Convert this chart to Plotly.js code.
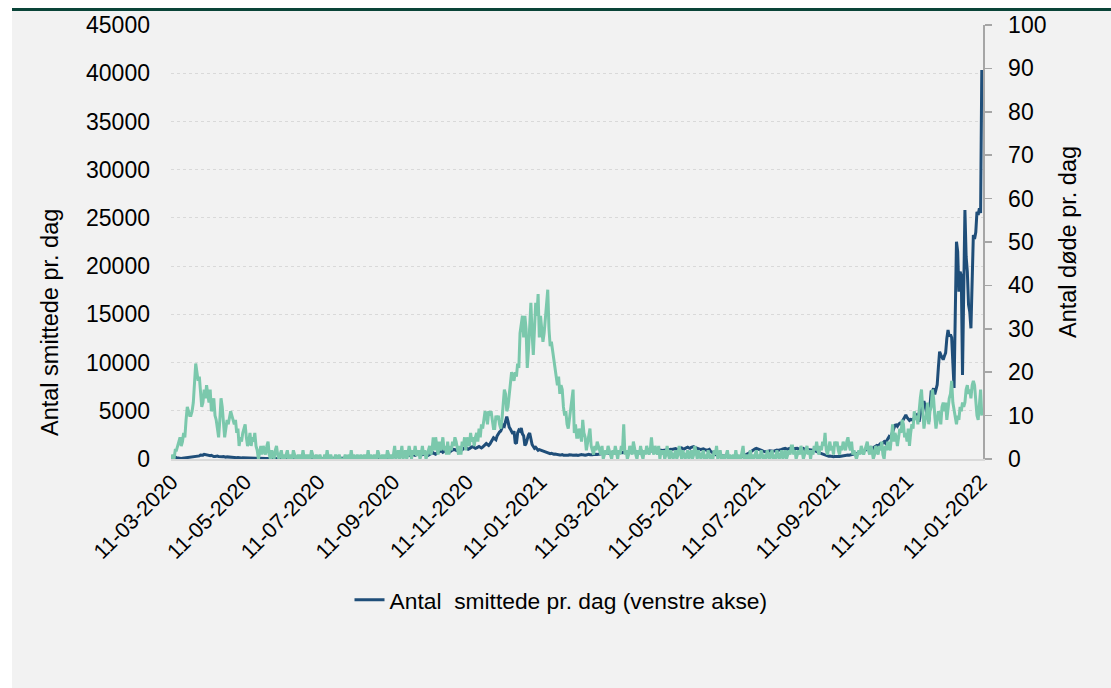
<!DOCTYPE html>
<html>
<head>
<meta charset="utf-8">
<script src="https://cdn.plot.ly/plotly-3.0.1.min.js"></script>
<style>
  html, body { margin: 0; padding: 0; background: #ffffff; }
  #chart { width: 1111px; height: 688px; }
</style>
</head>
<body>
<div id="chart"></div>
<script>
// Daily series, starting 11-03-2020 (one value per day)
const START_DATE = [2020, 2, 11];

// Daily new cases (left axis)
const cases = [
  // Mar 2020
  30,80,150,200,120,90,70,80,60,80,100,90,110,130,120,150,180,190,200,250,270,
  // Apr 2020
  290,350,320,420,380,400,480,450,390,330,310,340,380,300,260,270,290,310,250,230,220,240,260,210,190,220,200,180,210,190,
  // May 2020
  170,160,150,140,160,130,120,110,130,120,100,110,90,80,100,90,80,70,90,80,60,70,80,60,50,70,60,50,60,40,50,
  // Jun 2020
  40,50,60,40,30,50,40,30,40,50,30,20,40,30,50,40,30,40,50,30,20,40,50,30,40,60,50,40,30,40,
  // Jul 2020
  30,20,30,10,20,30,20,10,20,30,20,30,40,20,30,40,30,20,40,50,40,60,70,50,60,80,70,90,80,100,110,
  // Aug 2020
  120,100,130,150,110,90,140,170,130,120,150,180,140,110,100,130,160,120,90,110,140,130,100,80,110,120,100,90,110,140,160,
  // Sep 2020
  150,130,170,200,230,190,170,220,260,300,280,250,330,380,400,450,420,350,330,400,460,480,430,380,420,500,470,420,380,450,
  // Oct 2020
  480,510,440,400,470,520,550,500,420,390,480,560,600,650,560,500,620,700,760,800,860,700,780,880,940,900,820,760,850,950,1000,
  // Nov 2020
  960,900,1050,1100,1000,880,950,1080,1150,1200,1100,1020,1080,1180,1250,1280,1200,1100,1150,1250,1300,1220,1150,1230,1350,1450,1600,1500,1400,1550,
  // Dec 2020
  1800,1900,2200,2100,2000,2400,2700,2800,2900,3200,3500,3400,3900,4400,3900,3300,3100,2800,2600,2900,1700,1600,2700,3000,2900,3200,2600,2400,1400,1600,2200,
  // Jan 2021
  2500,2700,1900,1500,1300,1100,1200,1050,900,980,930,850,800,760,700,720,650,600,550,580,520,490,510,470,450,430,410,420,450,400,380,
  // Feb 2021
  420,410,390,440,460,420,380,400,430,410,380,420,450,470,430,400,390,420,460,480,450,420,440,470,500,480,460,490,
  // Mar 2021
  520,550,600,580,560,620,640,600,580,620,650,700,680,640,620,660,700,720,680,650,700,740,760,720,690,730,760,780,740,720,760,
  // Apr 2021
  780,760,740,800,820,780,760,800,840,860,820,800,850,880,900,870,850,880,920,950,900,880,920,960,930,910,950,990,1010,980,
  // May 2021
  1000,1040,1080,1020,990,1050,1100,1150,1080,1020,1100,1180,1220,1150,1100,1200,1250,1280,1200,1150,1100,1050,1000,980,1020,1060,1000,950,900,950,1000,
  // Jun 2021
  800,700,600,550,480,420,400,420,380,350,320,300,280,300,260,240,220,200,210,180,160,150,130,150,170,200,240,300,360,420,
  // Jul 2021
  450,500,600,700,800,900,1000,1050,1100,1050,950,900,850,800,780,750,780,760,800,850,820,780,800,850,900,930,880,900,950,1000,1050,
  // Aug 2021
  1080,1100,1050,1000,1080,1100,1150,1050,1000,1080,1120,1100,1050,1000,1050,1100,1100,1000,950,900,980,950,900,850,900,880,800,750,700,650,600,
  // Sep 2021
  550,500,450,380,320,300,280,300,260,250,240,260,280,300,260,250,280,300,320,350,380,400,420,400,450,480,500,520,550,520,
  // Oct 2021
  600,650,700,750,800,780,850,900,950,1000,1100,1200,1150,1100,1250,1300,1400,1350,1500,1600,1550,1700,1800,1650,1900,2000,2300,2100,2400,2800,3200,
  // Nov 2021
  3500,3530,3400,3600,3700,3650,3900,4200,4400,4560,4300,4100,4000,4100,4050,4040,4300,4400,4560,4200,3870,4600,5290,5600,6000,5500,4900,4600,3870,5500,
  // Dec 2021
  6980,7000,7340,6700,7200,7700,9500,11130,10800,10500,10300,10680,11000,12500,13380,12700,12900,12600,10500,7360,15000,22530,21500,17350,19420,19000,8710,16500,25820,21000,19420,
  // Jan 2022
  16000,15270,13550,18500,23230,22800,23500,25640,25300,26000,25500,40340
];

// Daily deaths (right axis)
const deaths = [
  // Mar 2020
  0,1,0,2,2,3,4,5,3,4,6,5,9,12,11,10,10,11,13,18,22,
  // Apr 2020
  20,18,19,14,12,13,16,14,17,15,13,16,11,12,14,10,9,7,5,9,14,12,8,5,7,9,8,10,11,10,
  // May 2020
  9,8,9,6,7,3,5,4,6,7,8,5,3,4,6,3,5,4,6,3,2,0,2,3,1,3,2,1,3,4,1,
  // Jun 2020
  0,2,1,0,2,3,1,0,1,2,0,1,0,1,2,0,0,1,0,2,1,0,0,1,0,1,0,2,0,1,
  // Jul 2020
  0,1,0,0,2,1,0,0,1,0,0,1,0,0,0,1,0,2,0,0,1,0,0,0,1,0,0,1,0,0,0,
  // Aug 2020
  0,1,0,0,1,0,2,0,1,0,0,1,0,0,1,0,0,1,0,0,2,0,1,0,0,1,0,0,2,1,0,
  // Sep 2020
  0,1,0,1,0,2,1,0,1,0,1,3,0,1,2,0,1,3,0,1,2,0,1,3,1,0,2,1,3,1,
  // Oct 2020
  1,2,0,1,3,1,2,0,1,2,3,1,2,5,2,5,3,1,4,2,3,5,2,3,1,4,1,3,2,4,3,
  // Nov 2020
  5,4,2,1,3,1,4,3,5,2,5,4,3,6,4,5,3,5,6,4,7,5,8,7,9,11,10,8,11,10,
  // Dec 2020
  11,9,7,7,10,9,10,8,7,9,12,16,15,11,12,15,17,20,19,18,20,19,22,21,29,31,33,28,33,30,21,
  // Jan 2021
  25,31,36,29,24,30,36,33,38,28,33,30,27,29,32,35,39,30,26,27,25,23,21,20,17,19,15,17,16,12,10,
  // Feb 2021
  11,8,7,9,12,14,16,6,8,5,5,7,6,4,9,6,5,2,4,5,7,3,2,1,3,2,4,3,
  // Mar 2021
  2,1,3,0,1,2,1,3,2,1,0,2,1,3,1,0,2,1,3,2,8,1,2,0,1,3,2,1,4,2,1,
  // Apr 2021
  0,2,1,3,1,0,2,1,3,2,1,2,5,2,1,3,2,1,3,0,2,1,2,0,1,3,1,0,2,1,
  // May 2021
  0,1,2,0,1,3,1,0,2,1,0,1,2,0,1,2,0,1,3,1,0,2,1,0,1,2,0,1,0,2,1,
  // Jun 2021
  0,1,0,2,1,3,0,1,2,0,1,0,0,1,2,0,1,0,0,1,0,2,0,1,0,0,2,3,0,1,
  // Jul 2021
  0,1,0,2,0,1,0,1,2,0,1,0,2,1,0,1,0,2,1,0,1,2,0,1,0,2,1,0,1,2,0,
  // Aug 2021
  1,2,0,1,2,1,3,3,1,2,0,1,2,1,3,2,0,1,2,3,1,2,0,2,1,3,2,4,2,1,3,
  // Sep 2021
  2,4,3,6,2,1,3,4,2,3,1,4,3,4,2,1,3,2,4,3,2,4,5,3,2,4,1,2,1,0,
  // Oct 2021
  1,2,1,3,2,1,2,3,4,2,1,3,2,0,1,3,2,1,3,2,4,1,0,3,2,4,3,2,5,8,4,
  // Nov 2021
  6,5,3,5,7,6,9,8,5,6,4,7,3,6,8,7,11,9,10,8,12,14,16,11,7,9,10,13,8,11,
  // Dec 2021
  12,16,14,10,7,9,11,10,8,12,13,11,13,9,12,14,15,18,13,11,9,8,10,9,12,11,13,12,13,16,17,
  // Jan 2022
  15,16,14,17,18,17,13,10,9,13,16,10
];

// Tick dates on the time axis (every second month)
const tickDates = [
  '2020-03-11','2020-05-11','2020-07-11','2020-09-11','2020-11-11',
  '2021-01-11','2021-03-11','2021-05-11','2021-07-11','2021-09-11',
  '2021-11-11','2022-01-11'
];

const casesName = 'Antal  smittede pr. dag (venstre akse)';
const deathsName = 'Antal døde pr. dag (højre akse)';
const leftTitle = 'Antal smittede pr. dag';
const rightTitle = 'Antal døde pr. dag';

function dayList(n) {
  const out = [];
  for (let i = 0; i < n; i++) {
    const d = new Date(Date.UTC(START_DATE[0], START_DATE[1], START_DATE[2] + i));
    out.push(d.toISOString().slice(0, 10));
  }
  return out;
}

const FONT = 'Liberation Sans, Arial, Helvetica, sans-serif';

const traces = [
  {
    x: dayList(cases.length), y: cases, name: casesName,
    type: 'scatter', mode: 'lines', yaxis: 'y',
    line: { color: '#1f4e79', width: 3 },
    hoverinfo: 'x+y'
  },
  {
    x: dayList(deaths.length), y: deaths, name: deathsName,
    type: 'scatter', mode: 'lines', yaxis: 'y2',
    line: { color: '#7bc8ac', width: 3 },
    showlegend: false, hoverinfo: 'x+y'
  }
];

// paper-coordinate helpers for the frame decoration
const L = 171, R = 128, T = 25, B = 229, W = 1111, H = 688;
const pw = W - L - R, ph = H - T - B;
const px = X => (X - L) / pw;
const py = Y => (H - B - Y) / ph;

const layout = {
  width: W, height: H,
  margin: { l: L, r: R, t: T, b: B, pad: 0 },
  paper_bgcolor: '#ffffff',
  plot_bgcolor: '#f2f2f2',
  font: { family: FONT, color: '#000000', size: 22 },
  showlegend: true,
  legend: {
    orientation: 'h', x: px(561), xanchor: 'center', y: py(600), yanchor: 'middle',
    bgcolor: 'rgba(0,0,0,0)', font: { size: 22.8, family: FONT, color: '#000' }
  },
  xaxis: {
    type: 'date',
    range: ['2020-03-10 12:00', '2022-01-13'],
    tickvals: tickDates, tickformat: '%d-%m-%Y', tickangle: -45,
    tickfont: { size: 21.5 },
    showgrid: false, zeroline: false,
    showline: true, linecolor: '#d9d9d9', linewidth: 2,
    ticks: ''
  },
  yaxis: {
    range: [0, 45000], dtick: 5000, tick0: 0, tickformat: 'd',
    showgrid: true, gridcolor: '#d9d9d9', griddash: 'dot', gridwidth: 1.2,
    zeroline: false, showline: false, ticks: '',
    tickfont: { size: 23 }, ticklabelstandoff: 20
  },
  yaxis2: {
    overlaying: 'y', side: 'right',
    range: [0, 100], dtick: 10, tick0: 0,
    showgrid: false, zeroline: false,
    showline: true, linecolor: '#a6a6a6', linewidth: 1.5,
    ticks: 'outside', ticklen: 7, tickwidth: 1.5, tickcolor: '#a6a6a6',
    tickfont: { size: 23 }, ticklabelstandoff: 12
  },
  shapes: [
    { type: 'rect', xref: 'paper', yref: 'paper', layer: 'below',
      x0: px(12), x1: px(W + 20), y0: py(H + 20), y1: py(11),
      fillcolor: '#f2f2f2', line: { width: 0 } },
    { type: 'rect', xref: 'paper', yref: 'paper', layer: 'below',
      x0: px(12), x1: px(W + 20), y0: py(11), y1: py(8),
      fillcolor: '#0a4438', line: { width: 0 } }
  ],
  annotations: [
    { text: leftTitle, xref: 'paper', yref: 'paper', x: px(50), y: py(322),
      xanchor: 'center', yanchor: 'middle', textangle: -90, showarrow: false,
      font: { size: 23.5, family: FONT, color: '#000' } },
    { text: rightTitle, xref: 'paper', yref: 'paper', x: px(1068), y: py(242),
      xanchor: 'center', yanchor: 'middle', textangle: -90, showarrow: false,
      font: { size: 23.5, family: FONT, color: '#000' } }
  ]
};

Plotly.newPlot('chart', traces, layout, { displayModeBar: false, staticPlot: true });
</script>
</body>
</html>
